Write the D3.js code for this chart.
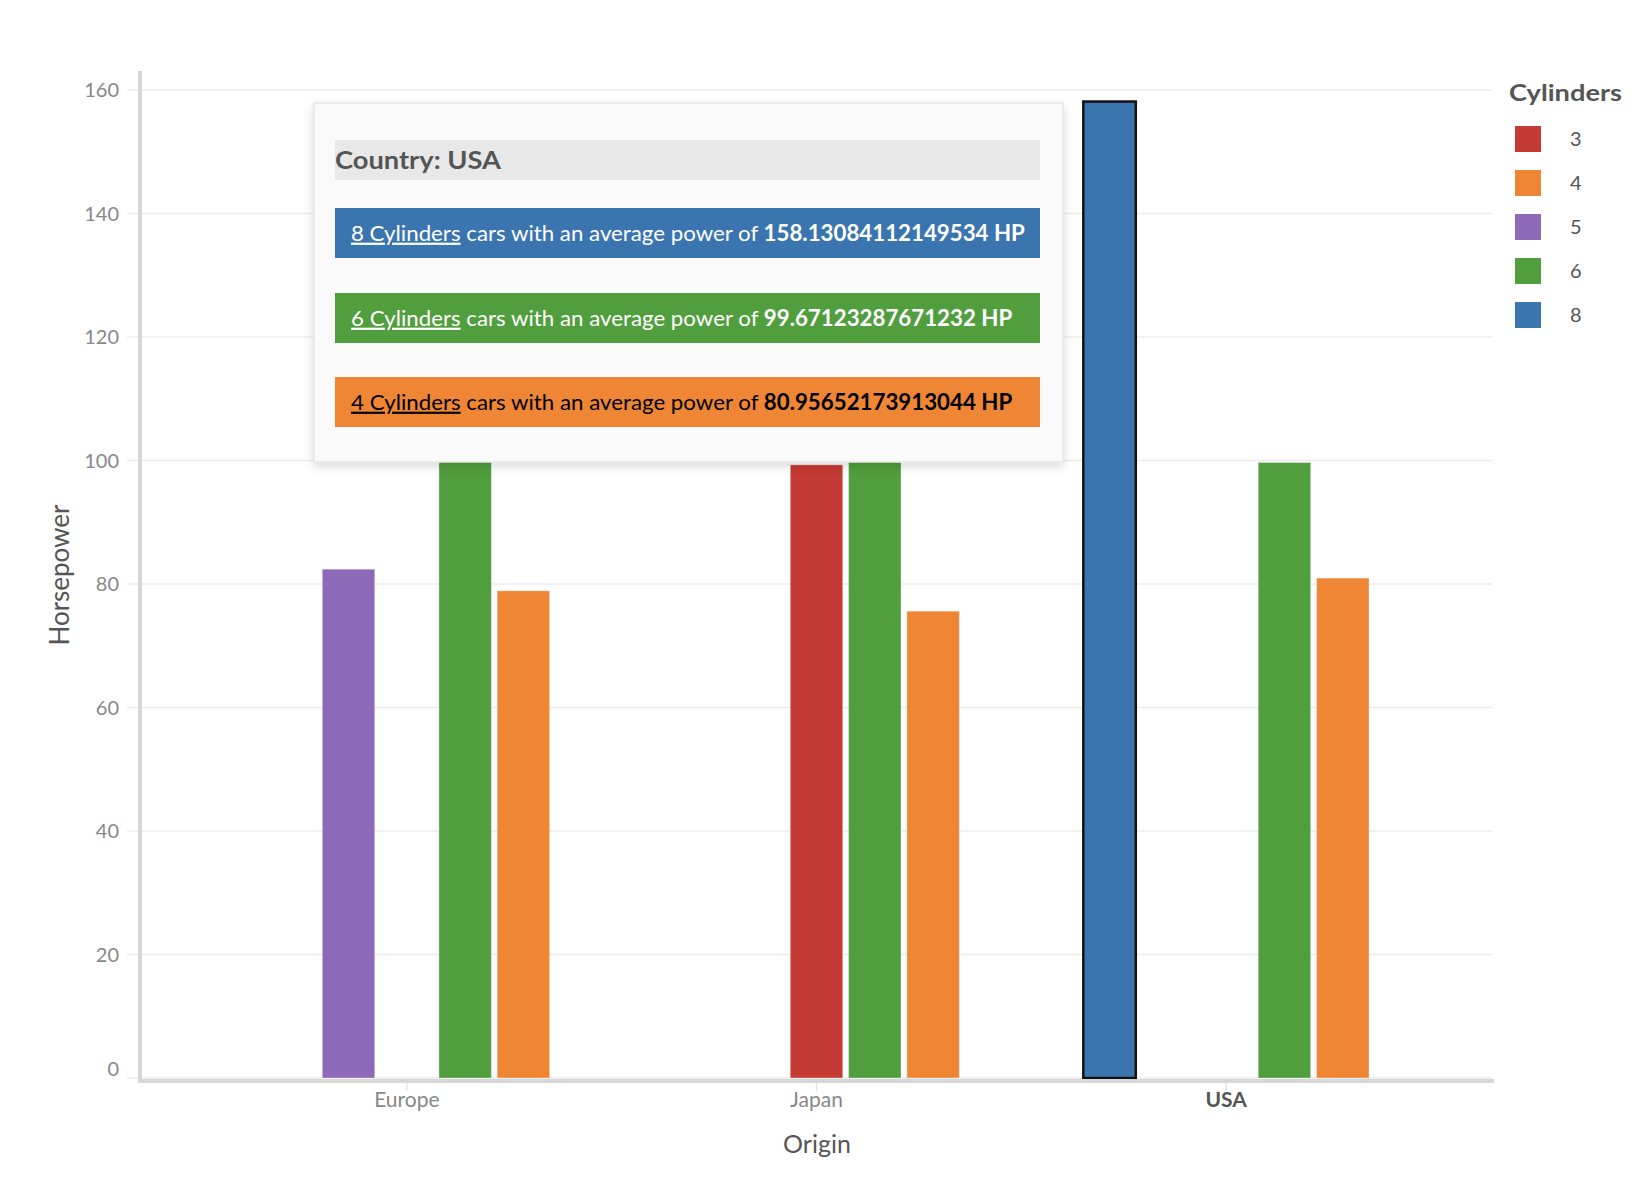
<!DOCTYPE html>
<html>
<head>
<meta charset="utf-8">
<script src="https://cdn.jsdelivr.net/npm/d3@7"></script>
<style>
  html, body { margin: 0; padding: 0; background: #fff; }
  svg { display: block; font-family: Lato, "Open Sans", sans-serif; }
</style>
</head>
<body>
<svg id="chart" width="1646" height="1182"></svg>
<script>
// ---- data ----
const origins = ["Europe", "Japan", "USA"];
const legendCylinders = ["3", "4", "5", "6", "8"];
const slotOrder = ["8", "5", "3", "6", "4"];
const hp3 = [null, 99.3, null];
const hp4 = [78.9, 75.6, 80.95652173913044];
const hp5 = [82.4, null, null];
const hp6 = [113.5, 115.8, 99.67123287671232];
const hp8 = [null, null, 158.13084112149534];
const yTicks = [0, 20, 40, 60, 80, 100, 120, 140, 160];
const cylColors = ["#c53a32", "#ef8636", "#8d69b8", "#519e3e", "#3b75af"];
const tooltipCountry = "USA";
const tooltipRows = [
  { cyl: "8", value: "158.13084112149534" },
  { cyl: "6", value: "99.67123287671232" },
  { cyl: "4", value: "80.95652173913044" }
];

const seriesByCyl = { "3": hp3, "4": hp4, "5": hp5, "6": hp6, "8": hp8 };
const color = d3.scaleOrdinal().domain(legendCylinders).range(cylColors);

const svg = d3.select("#chart");

// ---- scales ----
const x0 = d3.scaleBand().domain(origins).range([202, 1431]).padding(0);
const groupW = 291.5;
const x1 = d3.scaleBand().domain(slotOrder)
  .range([x0.bandwidth() / 2 - groupW / 2, x0.bandwidth() / 2 + groupW / 2])
  .paddingInner(0.1).paddingOuter(0.05);
const y = d3.scaleLinear().domain([0, 160]).range([1078, 90]);

// ---- gridlines ----
svg.append("g").selectAll("line").data(yTicks).join("line")
  .attr("x1", 127).attr("x2", 1492)
  .attr("y1", d => y(d)).attr("y2", d => y(d))
  .attr("stroke", "#ececec").attr("stroke-width", 1.5);

// y tick labels
svg.append("g").selectAll("text").data(yTicks).join("text")
  .attr("x", 119)
  .attr("y", d => y(d) - (d === 0 ? 9 : 0))
  .attr("dy", "0.35em")
  .attr("text-anchor", "end")
  .attr("font-size", 20)
  .attr("fill", "#888")
  .text(d => d);

// ---- bars ----
const flat = [];
origins.forEach((o, i) => {
  slotOrder.forEach(c => {
    const v = seriesByCyl[c][i];
    if (v != null) flat.push({ origin: o, cyl: c, value: v });
  });
});

svg.append("g").selectAll("rect").data(flat).join("rect")
  .attr("x", d => x0(d.origin) + x1(d.cyl))
  .attr("width", x1.bandwidth())
  .attr("y", d => y(d.value))
  .attr("height", d => y(0) - y(d.value))
  .attr("fill", d => color(d.cyl))
  .attr("stroke", d => (d.origin === "USA" && d.cyl === "8") ? "#111" : "rgba(255,255,255,0.35)")
  .attr("stroke-width", d => (d.origin === "USA" && d.cyl === "8") ? 2.5 : 1);

// ---- axes lines ----
svg.append("line").attr("x1", 140).attr("x2", 140).attr("y1", 71).attr("y2", 1083)
  .attr("stroke", "#d6d6d6").attr("stroke-width", 4);
svg.append("line").attr("x1", 138).attr("x2", 1494).attr("y1", 1081).attr("y2", 1081)
  .attr("stroke", "#d6d6d6").attr("stroke-width", 4);

// x ticks
svg.append("g").selectAll("line").data(origins).join("line")
  .attr("x1", d => x0(d) + x0.bandwidth() / 2).attr("x2", d => x0(d) + x0.bandwidth() / 2)
  .attr("y1", 1083).attr("y2", 1091)
  .attr("stroke", "#e4e4e4").attr("stroke-width", 1.5);

svg.append("g").selectAll("text").data(origins).join("text")
  .attr("x", d => x0(d) + x0.bandwidth() / 2)
  .attr("y", 1100)
  .attr("dy", "0.35em")
  .attr("text-anchor", "middle")
  .attr("font-size", 21)
  .attr("font-weight", d => d === tooltipCountry ? "bold" : "normal")
  .attr("fill", d => d === tooltipCountry ? "#555" : "#888")
  .text(d => d);

// axis titles
svg.append("text").attr("x", 817).attr("y", 1144).attr("dy", "0.35em")
  .attr("text-anchor", "middle").attr("font-size", 25).attr("fill", "#555")
  .text("Origin");
svg.append("text").attr("transform", "translate(60,575) rotate(-90)")
  .attr("dy", "0.35em").attr("text-anchor", "middle")
  .attr("font-size", 26).attr("fill", "#555").text("Horsepower");

// ---- legend ----
const legend = svg.append("g");
legend.append("text").attr("x", 1509).attr("y", 93).attr("dy", "0.35em")
  .attr("font-size", 23).attr("font-weight", "bold").attr("fill", "#555")
  .attr("textLength", 113).attr("lengthAdjust", "spacingAndGlyphs")
  .text("Cylinders");
const li = legend.selectAll("g.item").data(legendCylinders).join("g")
  .attr("class", "item")
  .attr("transform", (d, i) => `translate(1515,${126 + i * 44})`);
li.append("rect").attr("width", 26).attr("height", 26).attr("fill", d => color(d));
li.append("text").attr("x", 55).attr("y", 13).attr("dy", "0.35em")
  .attr("font-size", 20).attr("fill", "#555").text(d => d);

// ---- tooltip ----
const defs = svg.append("defs");
const f = defs.append("filter").attr("id", "shadow")
  .attr("x", "-5%").attr("y", "-5%").attr("width", "110%").attr("height", "112%");
f.append("feDropShadow").attr("dx", 0).attr("dy", 4).attr("stdDeviation", 5)
  .attr("flood-color", "#000").attr("flood-opacity", 0.14);

const tip = svg.append("g");
tip.append("rect").attr("x", 314).attr("y", 103).attr("width", 749).attr("height", 359)
  .attr("fill", "#fafafa").attr("stroke", "#e6e6e6").attr("stroke-width", 1.5)
  .attr("filter", "url(#shadow)");
tip.append("rect").attr("x", 335).attr("y", 140).attr("width", 705).attr("height", 40)
  .attr("fill", "#e8e8e8");
tip.append("text").attr("x", 335).attr("y", 161).attr("dy", "0.35em")
  .attr("font-size", 24).attr("font-weight", "bold").attr("fill", "#555")
  .attr("textLength", 166).attr("lengthAdjust", "spacingAndGlyphs")
  .text("Country: " + tooltipCountry);

const rowY = [208, 293, 377];
const rowTextLen = [642 * 1.0497, 630 * 1.0497, 630 * 1.0497];
tooltipRows.forEach((r, i) => {
  tip.append("rect").attr("x", 335).attr("y", rowY[i]).attr("width", 705).attr("height", 50)
    .attr("fill", color(r.cyl));
  const tc = r.cyl === "4" ? "#000" : "#fff";
  const t = tip.append("text").attr("x", 351).attr("y", rowY[i] + 25).attr("dy", "0.35em")
    .attr("font-size", 22).attr("fill", tc)
    .attr("textLength", rowTextLen[i]).attr("lengthAdjust", "spacingAndGlyphs");
  t.append("tspan").attr("text-decoration", "underline").text(r.cyl + " Cylinders");
  t.append("tspan").text(" cars with an average power of ");
  t.append("tspan").attr("font-weight", "bold").text(r.value + " HP");
});
</script>
</body>
</html>
